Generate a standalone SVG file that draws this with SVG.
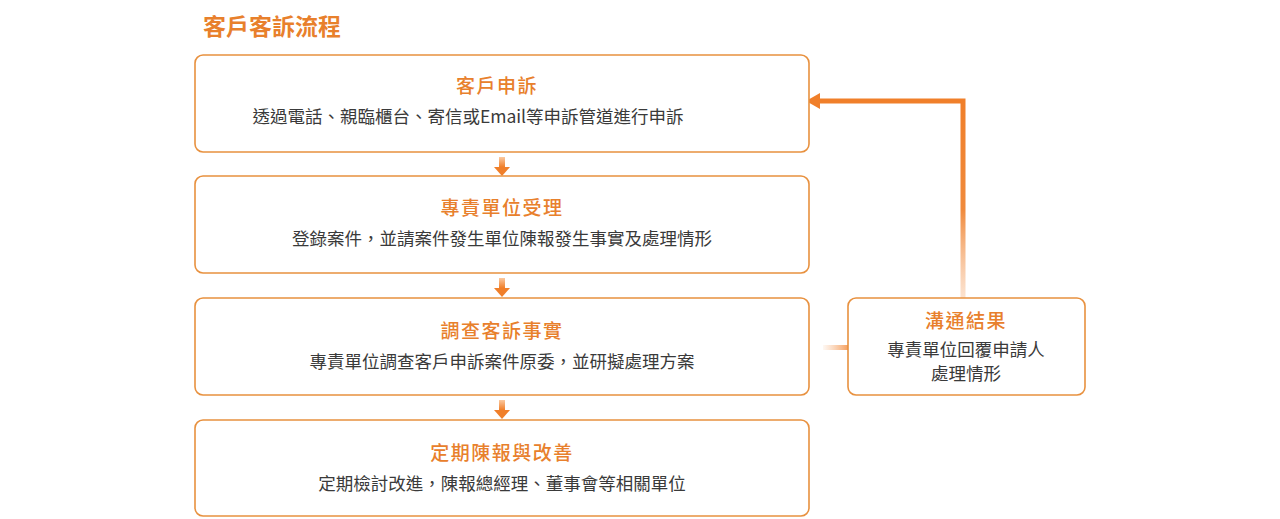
<svg xmlns="http://www.w3.org/2000/svg" width="1280" height="519" viewBox="0 0 1280 519">
<style>
.box{fill:#fff;stroke:#e8913f;stroke-width:1.6}
.t{font-family:"Noto Sans CJK TC","Noto Sans",sans-serif;font-size:19px;letter-spacing:1.5px;fill:#e8802c;text-anchor:middle;font-weight:500}
.s{font-family:"Noto Sans CJK TC","Noto Sans",sans-serif;font-size:17.5px;fill:#3a3a3a;text-anchor:middle}
</style>
<defs>
<linearGradient id="gv" x1="0" y1="1" x2="0" y2="0"><stop offset="0" stop-color="#f7b98a" stop-opacity="0.4"/><stop offset="0.45" stop-color="#f08a3c"/><stop offset="1" stop-color="#f07f2a"/></linearGradient>
<linearGradient id="gh" x1="0" y1="0" x2="1" y2="0"><stop offset="0" stop-color="#f7b98a" stop-opacity="0.1"/><stop offset="1" stop-color="#f5a060"/></linearGradient>
<linearGradient id="ga" x1="0" y1="0" x2="0" y2="1"><stop offset="0" stop-color="#fbc9a0"/><stop offset="1" stop-color="#f07f2a"/></linearGradient>
<g id="arr"><rect x="-3" y="0" width="6" height="10" fill="url(#ga)"/><path d="M-8,10 L8,10 L0,19 Z" fill="#f07f2a"/></g>
</defs>
<text x="203" y="35" font-family="Noto Sans CJK TC,sans-serif" font-size="23" font-weight="bold" fill="#e8802c">客戶客訴流程</text>
<g id="connectors">
<use href="#arr" x="502" y="157"/>
<use href="#arr" x="502" y="278"/>
<use href="#arr" x="502" y="400"/>
<path d="M963,298 L963,101 L818,101" fill="none" stroke="url(#gv)" stroke-width="5"/>
<path d="M806,101 L820,93 L820,109 Z" fill="#f07f2a"/>
<rect x="823" y="345" width="25" height="5" fill="url(#gh)"/>
</g>
<g id="n1"><rect class="box" x="195" y="55" width="614" height="97" rx="8"/><text class="t" x="497" y="93">客戶申訴</text><text class="s" x="468" y="123">透過電話、親臨櫃台、寄信或Email等申訴管道進行申訴</text></g>
<g id="n2"><rect class="box" x="195" y="176" width="614" height="97" rx="8"/><text class="t" x="502" y="215">專責單位受理</text><text class="s" x="502" y="245">登錄案件，並請案件發生單位陳報發生事實及處理情形</text></g>
<g id="n3"><rect class="box" x="195" y="298" width="614" height="97" rx="8"/><text class="t" x="502" y="338">調查客訴事實</text><text class="s" x="502" y="368">專責單位調查客戶申訴案件原委，並研擬處理方案</text></g>
<g id="n4"><rect class="box" x="195" y="420" width="614" height="96" rx="8"/><text class="t" x="502" y="460">定期陳報與改善</text><text class="s" x="502" y="490">定期檢討改進，陳報總經理、董事會等相關單位</text></g>
<g id="n5"><rect class="box" x="848" y="298" width="237" height="97" rx="8"/><text class="t" x="966" y="328">溝通結果</text><text class="s" x="966" y="356">專責單位回覆申請人</text><text class="s" x="966" y="380">處理情形</text></g>
</svg>
